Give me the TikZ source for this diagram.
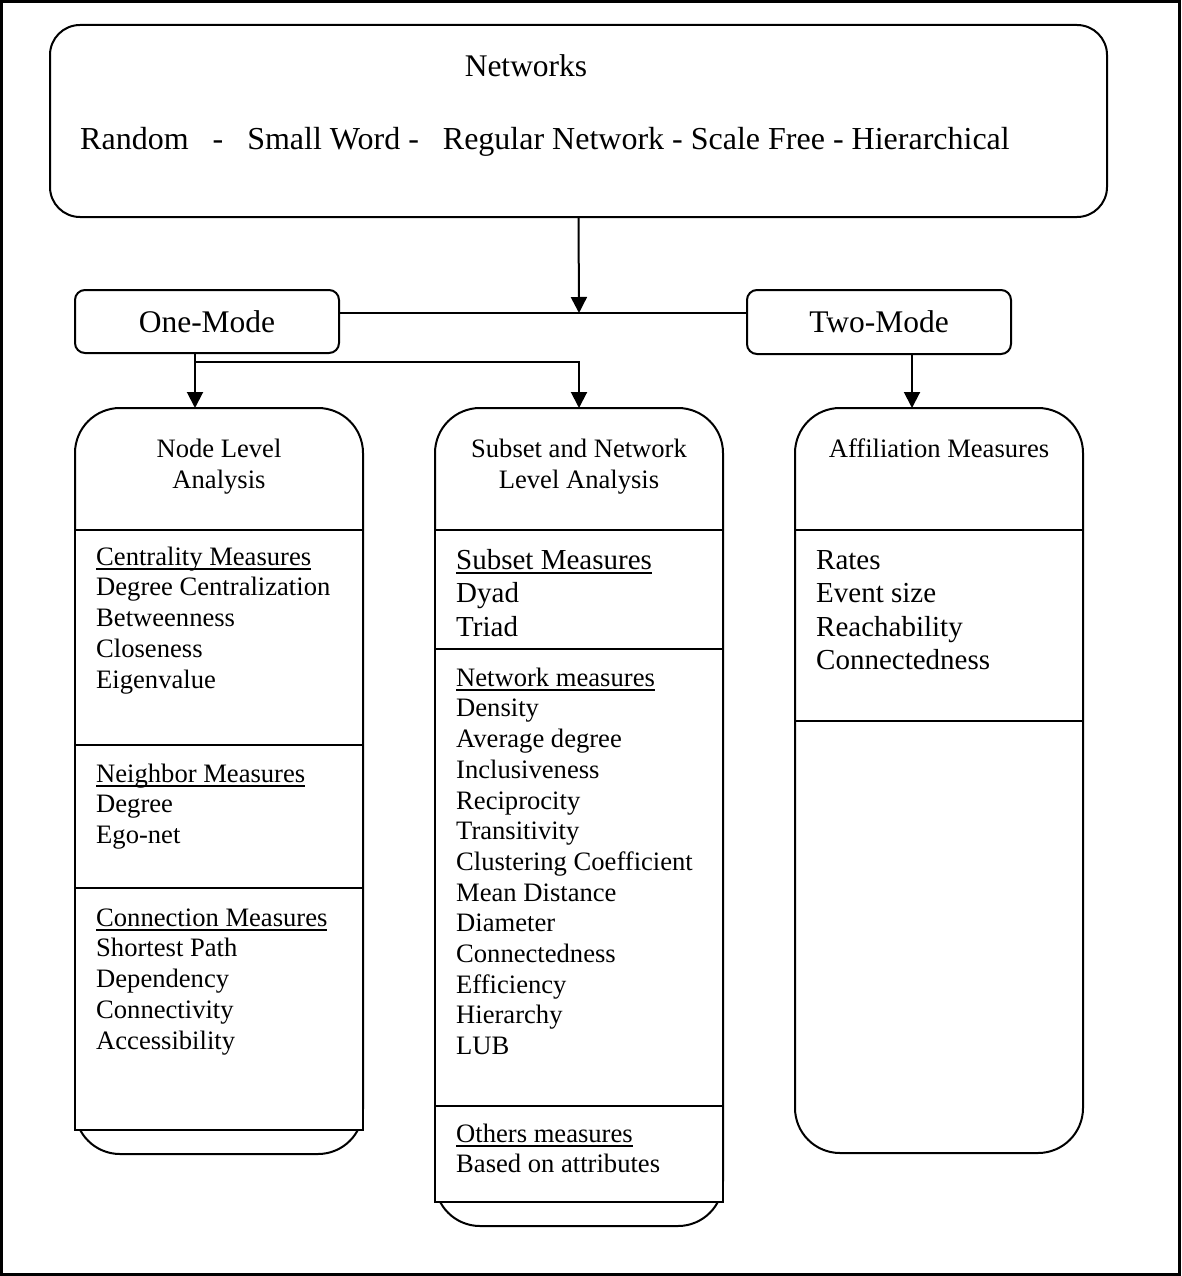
\documentclass[tikz,border=0pt]{standalone}
\usepackage{fontspec}
\setmainfont{Liberation Serif}
\usetikzlibrary{arrows.meta}

% font sizes (1pt = one unit of the drawing grid)
\newcommand\fbig{\fontsize{31.5}{31.5}\selectfont}
\newcommand\ftypes{\fontsize{32}{32}\selectfont}
\newcommand\fmid{\fontsize{29}{33.4}\selectfont}
\newcommand\fnorm{\fontsize{26.6}{30.7}\selectfont}
\newcommand\fhead{\fontsize{26.6}{31.5}\selectfont}
% fixed first-line height, so a node's top edge sits at a known distance above its first baseline
\newcommand\topA{\rule{0pt}{20pt}}
\newcommand\topB{\rule{0pt}{22pt}}
% underline with a rule of fixed thickness and depth
\newcommand\ulx[1]{\setbox0\hbox{#1}\rlap{\rule[-4.8pt]{\wd0}{1.8pt}}\box0}

\begin{document}
\begin{tikzpicture}[x=1pt,y=-1pt,
  box/.style={draw,line width=2pt,outer sep=0pt,inner sep=0pt},
  conn/.style={line width=2pt},
  arr/.style={conn,-{Triangle[width=16pt,length=16pt]}},
  txt/.style={inner sep=0pt,anchor=north west,align=left,font=\fnorm},
  txtmid/.style={txt,font=\fmid},
  head/.style={inner sep=0pt,anchor=north,align=center,font=\fhead},
]
\useasboundingbox (0,0) rectangle (1181,1276);
\draw[line width=3pt] (1.5,1.5) rectangle (1179.5,1274.5);

% ---- top box: network types
\node[box,rounded corners=30pt,minimum width=1057pt,minimum height=192pt] (net) at (578.5,121) {};
\node[anchor=base,inner sep=0pt,font=\fbig] (nettitle) at (526,77) {Networks};
\node[anchor=base west,inner sep=0pt,font=\ftypes] (nettypes) at (80,150)
  {Random~~~-~~~Small Word -~~~Regular Network - Scale Free - Hierarchical};

% ---- mode boxes
\node[box,rounded corners=10pt,minimum width=264pt,minimum height=63pt,font=\fbig] (one) at (207,321.5) {One-Mode};
\node[box,rounded corners=10pt,minimum width=264pt,minimum height=64pt,font=\fbig] (two) at (879,322) {Two-Mode};

% ---- left column: node level analysis
\node[box,rounded corners=45pt,minimum width=288pt,minimum height=746pt] (nla) at (219,781) {};
\draw[box,fill=white] (75,530) rectangle (363,1130);
\draw[box] (75,745) -- (363,745);
\draw[box] (75,888) -- (363,888);
\node[head] (nlah) at (219,437) {\topA Node Level\\Analysis};
\node[txt] (cent) at (96,545) {\topA\ulx{Centrality Measures}\\Degree Centralization\\Betweenness\\Closeness\\Eigenvalue};
\node[txt] (neigh) at (96,762) {\topA\ulx{Neighbor Measures}\\Degree\\Ego-net};
\node[txt] (connm) at (96,906) {\topA\ulx{Connection Measures}\\Shortest Path\\Dependency\\Connectivity\\Accessibility};

% ---- middle column: subset and network level analysis
\node[box,rounded corners=45pt,minimum width=288pt,minimum height=818pt] (sna) at (579,817) {};
\draw[box,fill=white] (435,530) rectangle (723,1202);
\draw[box] (435,649) -- (723,649);
\draw[box] (435,1106) -- (723,1106);
\node[head] (snah) at (579,437) {\topA Subset and Network\\Level Analysis};
\node[txtmid] (subm) at (456,547) {\topB\ulx{Subset Measures}\\Dyad\\Triad};
\node[txt] (netm) at (456,666) {\topA\ulx{Network measures}\\Density\\Average degree\\Inclusiveness\\Reciprocity\\Transitivity\\Clustering Coefficient\\Mean Distance\\Diameter\\Connectedness\\Efficiency\\Hierarchy\\LUB};
\node[txt] (othm) at (456,1122) {\topA\ulx{Others measures}\\Based on attributes};

% ---- right column: affiliation measures
\node[box,rounded corners=45pt,minimum width=288pt,minimum height=745pt] (aff) at (939,780.5) {};
\draw[box] (795,530) -- (1083,530);
\draw[box] (795,721) -- (1083,721);
\node[head] (affh) at (939,437) {\topA Affiliation Measures};
\node[txtmid] (rates) at (816,547) {\topB Rates\\Event size\\Reachability\\Connectedness};

% ---- connectors
\coordinate (j) at (579,313);
\coordinate (xa) at (195,0);
\coordinate (xb) at (579,0);
\coordinate (xc) at (912,0);
\coordinate (br) at (0,362);
\draw[arr] (net.south) -- (j);
\draw[conn] (one.east |- j) -- (two.west |- j);
\draw[arr] (one.south -| xa) -- (nla.north -| xa);
\draw[arr] (one.south -| xa) |- (br -| xb) -- (sna.north -| xb);
\draw[arr] (two.south -| xc) -- (aff.north -| xc);
\end{tikzpicture}
\end{document}
